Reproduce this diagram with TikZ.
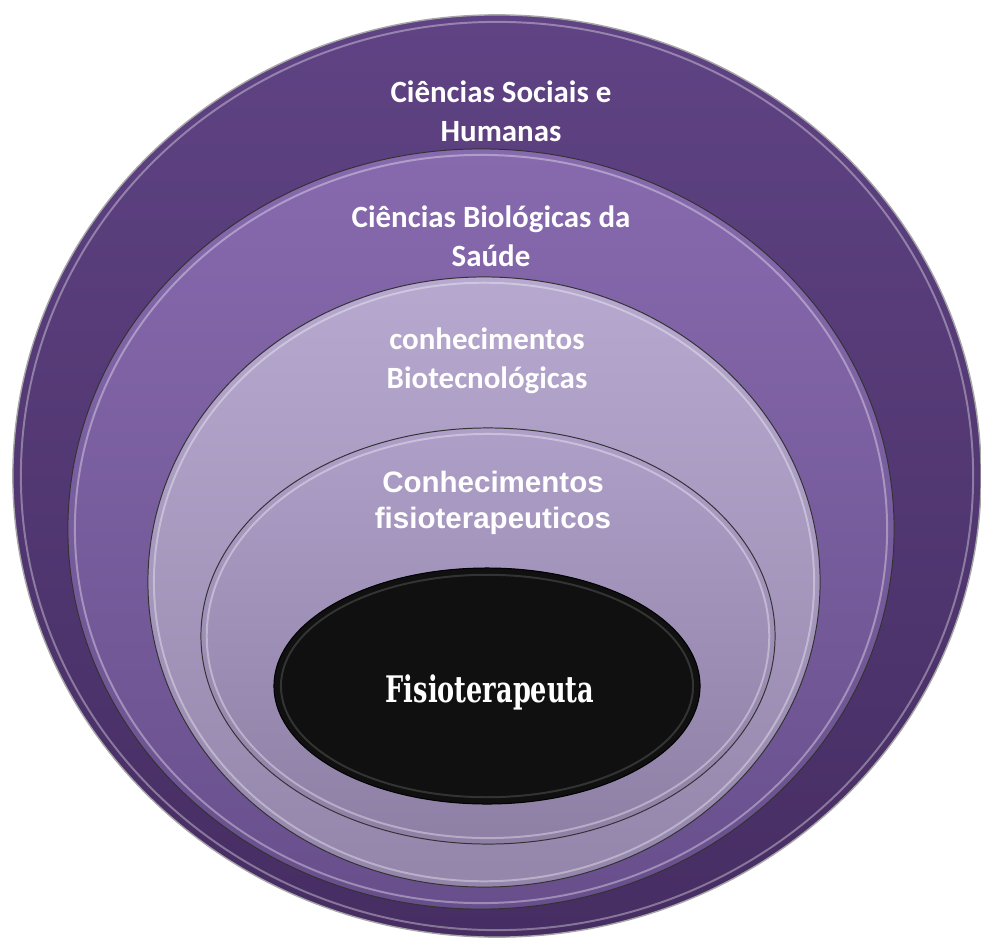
\documentclass[tikz,border=0pt]{standalone}
\usepackage{fontspec}
\usetikzlibrary{shapes.geometric, positioning}

\newfontfamily\calfont{Carlito}
\newfontfamily\arialfont{Liberation Sans}
\newfontfamily\slabfont[FakeStretch=0.70]{DejaVu Serif}

\definecolor{outertop}{HTML}{5F4384}
\definecolor{outerbot}{HTML}{462D62}
\definecolor{biotop}{HTML}{876AAE}
\definecolor{biobot}{HTML}{684F8C}
\definecolor{tectop}{HTML}{B6A8CE}
\definecolor{tecbot}{HTML}{9485AB}
\definecolor{fistop}{HTML}{AE9FC8}
\definecolor{fisbot}{HTML}{8E7FA5}
\definecolor{coreblack}{HTML}{101010}

\begin{document}
\begin{tikzpicture}[
        x=0.025cm, y=-0.025cm,
        ring/.style={ellipse, inner sep=0pt, outer sep=0pt, draw=black!80, line width=0.7pt},
        rim/.style={draw=white, opacity=0.35, line width=1.4pt},
        label/.style={inner sep=0pt, text=white, align=center},
        callbl/.style={label, font=\calfont\bfseries\fontsize{22}{28}\selectfont}
    ]
        \useasboundingbox (0,0) rectangle (981,941);

        % Define the nested rings, outermost first
        \node (outerring) [ring, draw=black!35, line width=1pt, top color=outertop, bottom color=outerbot,
            minimum width=24.2cm, minimum height=23.05cm] at (497,476) {};
        \draw[rim] (outerring.center) ellipse [x radius=11.9cm, y radius=11.35cm];

        \node (bioring) [ring, top color=biotop, bottom color=biobot,
            minimum width=20.65cm, minimum height=19cm] at (481,529) {};
        \draw[rim] (bioring.center) ellipse [x radius=10.15cm, y radius=9.35cm];

        \node (tecring) [ring, top color=tectop, bottom color=tecbot,
            minimum width=16.8cm, minimum height=15.25cm] at (484,582) {};
        \draw[rim] (tecring.center) ellipse [x radius=8.25cm, y radius=7.48cm];

        \node (fisring) [ring, top color=fistop, bottom color=fisbot,
            minimum width=14.35cm, minimum height=10.4cm] at (488,636) {};
        \draw[rim] (fisring.center) ellipse [x radius=7.03cm, y radius=5.05cm];

        \node (corering) [ring, fill=coreblack, draw=black,
            minimum width=10.65cm, minimum height=5.9cm] at (487,686) {};
        \draw[rim, opacity=0.15] (corering.center) ellipse [x radius=5.15cm, y radius=2.78cm];

        % Define the labels
        \node (sociallbl) [callbl] at (501,111) {Ciências Sociais e\\Humanas};
        \node (biolbl)    [callbl] at (491,236) {Ciências Biológicas da\\Saúde};
        \node (teclbl)    [callbl] at (487,361) {conhecimentos\\Biotecnológicas};
        \node (fislbl)    [label, font=\arialfont\bfseries\fontsize{21}{25.6}\selectfont]
            at (493,503) {Conhecimentos\\fisioterapeuticos};
        \node (corelbl)   [label, anchor=base, font=\slabfont\bfseries\fontsize{26}{30}\selectfont]
            at (490,702) {Fisioterapeuta};

    \end{tikzpicture}
\end{document}
